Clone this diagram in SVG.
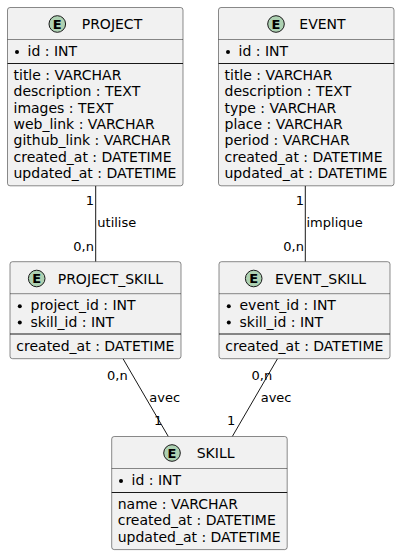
<svg xmlns="http://www.w3.org/2000/svg" width="400" height="555" viewBox="0 0 400 555">
<style>
.box{fill:#F1F1F1;stroke:#181818;stroke-width:0.5}
.hsep{stroke:#181818;stroke-width:0.5}
.sep{stroke:#181818;stroke-width:1}
.spot{fill:#ADD1B2;stroke:#181818;stroke-width:1}
.spotl{font-family:"DejaVu Sans",sans-serif;font-size:13px;font-weight:bold;text-anchor:middle;fill:#000}
.title{font-family:"DejaVu Sans",sans-serif;font-size:14px;fill:#000}
.attr{font-family:"DejaVu Sans",sans-serif;font-size:14px;fill:#000}
.lbl{font-family:"DejaVu Sans",sans-serif;font-size:13px;fill:#000}
.end{text-anchor:end}
.bul{fill:#000}
.edge{stroke:#181818;stroke-width:1;fill:none}
</style>
<g id="connectors">
<line class="edge" x1="95.7" y1="185.8" x2="95.7" y2="261.7"/>
<text class="lbl end" x="94" y="205">1</text>
<text class="lbl" x="97.3" y="227.3">utilise</text>
<text class="lbl end" x="94" y="251">0,n</text>
<line class="edge" x1="305.3" y1="185.8" x2="305.3" y2="261.7"/>
<text class="lbl end" x="304" y="205">1</text>
<text class="lbl" x="306.5" y="227.3">implique</text>
<text class="lbl end" x="304" y="251">0,n</text>
<line class="edge" x1="123" y1="358.7" x2="168.3" y2="436.5"/>
<text class="lbl" x="107" y="379.5">0,n</text>
<text class="lbl" x="149.3" y="402.3">avec</text>
<text class="lbl" x="154" y="425">1</text>
<line class="edge" x1="277.5" y1="358.7" x2="232.3" y2="436.5"/>
<text class="lbl" x="251.5" y="379.5">0,n</text>
<text class="lbl" x="260.7" y="402.3">avec</text>
<text class="lbl" x="227" y="425">1</text>
</g>
<g id="PROJECT">
<rect class="box" x="7.5" y="7.5" width="175.5" height="178.3" rx="2.5"/>
<circle class="spot" cx="57.3" cy="24" r="8.3"/>
<text class="spotl" x="57.3" y="28.7">E</text>
<text class="title" x="81.7" y="29">PROJECT</text>
<line class="hsep" x1="7.5" y1="39.5" x2="183" y2="39.5"/>
<circle class="bul" cx="17" cy="52" r="2"/>
<text class="attr" x="27.5" y="56">id : INT</text>
<line class="sep" x1="7.5" y1="63.5" x2="183" y2="63.5"/>
<text class="attr" x="13.5" y="80">title : VARCHAR</text>
<text class="attr" x="13.5" y="96.3">description : TEXT</text>
<text class="attr" x="13.5" y="112.6">images : TEXT</text>
<text class="attr" x="13.5" y="128.9">web_link : VARCHAR</text>
<text class="attr" x="13.5" y="145.2">github_link : VARCHAR</text>
<text class="attr" x="13.5" y="161.5">created_at : DATETIME</text>
<text class="attr" x="13.5" y="177.8">updated_at : DATETIME</text>
</g>
<g id="EVENT">
<rect class="box" x="218.5" y="7.5" width="175.5" height="178.3" rx="2.5"/>
<circle class="spot" cx="276" cy="24" r="8.3"/>
<text class="spotl" x="276" y="28.7">E</text>
<text class="title" x="299.3" y="29">EVENT</text>
<line class="hsep" x1="218.5" y1="39.5" x2="394" y2="39.5"/>
<circle class="bul" cx="228" cy="52" r="2"/>
<text class="attr" x="238.5" y="56">id : INT</text>
<line class="sep" x1="218.5" y1="63.5" x2="394" y2="63.5"/>
<text class="attr" x="224.5" y="80">title : VARCHAR</text>
<text class="attr" x="224.5" y="96.3">description : TEXT</text>
<text class="attr" x="224.5" y="112.6">type : VARCHAR</text>
<text class="attr" x="224.5" y="128.9">place : VARCHAR</text>
<text class="attr" x="224.5" y="145.2">period : VARCHAR</text>
<text class="attr" x="224.5" y="161.5">created_at : DATETIME</text>
<text class="attr" x="224.5" y="177.8">updated_at : DATETIME</text>
</g>
<g id="PROJECT_SKILL">
<rect class="box" x="10" y="261.7" width="171" height="97" rx="2.5"/>
<circle class="spot" cx="36.7" cy="278.5" r="8.3"/>
<text class="spotl" x="36.7" y="283.2">E</text>
<text class="title" x="57.7" y="283.5">PROJECT_SKILL</text>
<line class="hsep" x1="10" y1="293.7" x2="181" y2="293.7"/>
<circle class="bul" cx="19.8" cy="306.2" r="2"/>
<text class="attr" x="30.5" y="310.2">project_id : INT</text>
<circle class="bul" cx="19.8" cy="322.5" r="2"/>
<text class="attr" x="30.5" y="326.5">skill_id : INT</text>
<line class="sep" x1="10" y1="334" x2="181" y2="334"/>
<text class="attr" x="16.3" y="350.5">created_at : DATETIME</text>
</g>
<g id="EVENT_SKILL">
<rect class="box" x="219" y="261.7" width="171" height="97" rx="2.5"/>
<circle class="spot" cx="253.7" cy="278.5" r="8.3"/>
<text class="spotl" x="253.7" y="283.2">E</text>
<text class="title" x="275" y="283.5">EVENT_SKILL</text>
<line class="hsep" x1="219" y1="293.7" x2="390" y2="293.7"/>
<circle class="bul" cx="228.8" cy="306.2" r="2"/>
<text class="attr" x="239.5" y="310.2">event_id : INT</text>
<circle class="bul" cx="228.8" cy="322.5" r="2"/>
<text class="attr" x="239.5" y="326.5">skill_id : INT</text>
<line class="sep" x1="219" y1="334" x2="390" y2="334"/>
<text class="attr" x="225.3" y="350.5">created_at : DATETIME</text>
</g>
<g id="SKILL">
<rect class="box" x="111.7" y="436.5" width="175.5" height="113.1" rx="2.5"/>
<circle class="spot" cx="172" cy="453" r="8.3"/>
<text class="spotl" x="172" y="457.7">E</text>
<text class="title" x="196.7" y="458">SKILL</text>
<line class="hsep" x1="111.7" y1="468.5" x2="287.2" y2="468.5"/>
<circle class="bul" cx="121" cy="481" r="2"/>
<text class="attr" x="131.5" y="485">id : INT</text>
<line class="sep" x1="111.7" y1="492.5" x2="287.2" y2="492.5"/>
<text class="attr" x="117.7" y="509">name : VARCHAR</text>
<text class="attr" x="117.7" y="525.3">created_at : DATETIME</text>
<text class="attr" x="117.7" y="541.6">updated_at : DATETIME</text>
</g>
</svg>
